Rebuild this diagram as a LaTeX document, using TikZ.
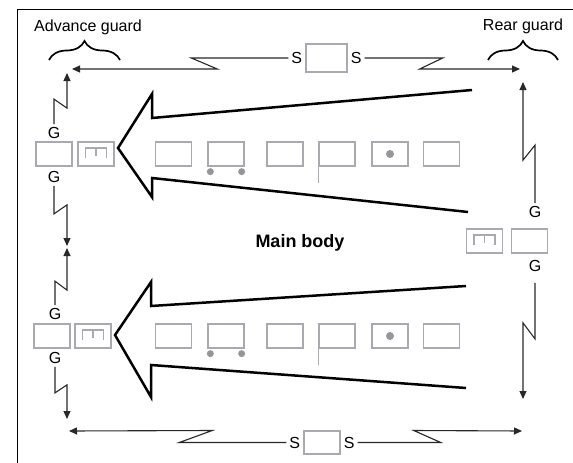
\documentclass[tikz,border=0pt]{standalone}
\usepackage{fontspec}
\setmainfont{Liberation Sans}
\usepackage{xcolor}
\usetikzlibrary{arrows.meta,positioning,decorations.pathreplacing,calc}
\definecolor{boxgray}{RGB}{168,170,176}
\definecolor{dotgray}{RGB}{148,150,156}
\definecolor{linkgray}{RGB}{40,40,40}
\tikzset{
  unit/.style={draw=boxgray, line width=1.3pt, minimum width=36pt, minimum height=24pt, inner sep=0pt},
  lbl/.style={inner sep=3pt, font=\fontsize{16}{19}\selectfont},
  link/.style={draw=linkgray, line width=1.1pt},
  tip/.style={-{Triangle[length=8pt,width=7pt]}},
  bigarrow/.style={line width=2.5pt, line join=miter, miter limit=20},
  guardbrace/.style={decorate, decoration={brace, amplitude=19pt}, line width=1.7pt},
  combmark/.pic={\draw[boxgray, line width=1.2pt] (-10.5,4) -- (-10.5,-6) -- (10.5,-6) -- (10.5,4) (0,-6) -- (0,2);}
}

\begin{document}
\begin{tikzpicture}[x=1pt,y=-1pt]
    \useasboundingbox (0,0) rectangle (573,463);
    % Frame
    \draw[line width=1pt] (17,463) -- (17,9) -- (573,9);

    % Guard labels and braces
    \node[lbl] (adv) at (88,27) {Advance guard};
    \node[lbl] (rear) at (523,26) {Rear guard};
    \draw[guardbrace] (49,60) -- (120,60);
    \draw[guardbrace] (488,60) -- (558,60);

    % Corner points of the screen
    \coordinate (advUp) at (67,73);
    \coordinate (advLeft) at (72,69);
    \coordinate (rearLeft) at (520,69);
    \coordinate (rearUp) at (523,82);
    \coordinate (midDown) at (67,246);
    \coordinate (midUp) at (67,248);
    \coordinate (advDown) at (67,419);
    \coordinate (advRight) at (69,431);
    \coordinate (rearDown) at (523,399);
    \coordinate (rearRight) at (522,431);

    % Main body arrows
    \draw[bigarrow] (472,90) -- (152,118) -- (152,94) -- (118,148) -- (152,197) -- (152,178) -- (468,212);
    \draw[bigarrow] (466,286) -- (151,306) -- (151,282) -- (115,335) -- (151,397) -- (151,365) -- (466,388);
    \node[font=\bfseries\fontsize{18}{21}\selectfont] (main) at (300,243) {Main body};

    % Vehicles of the main body, both columns
    \foreach \r/\y in {t/154, b/336} {
        \foreach \i/\x in {1/173.5, 2/226, 3/285, 4/337, 5/390, 6/441.5}
            \node[unit] (\r\i) at (\x,\y) {};
        \fill[dotgray] ($(\r2.south west)+(3,5)$) circle (3.5);
        \fill[dotgray] ($(\r2.south east)+(-3,5)$) circle (3.5);
        \draw[boxgray, line width=1.3pt] (\r4.south west) -- ++(0,16);
        \fill[dotgray] (\r5) circle (4);
    }

    % Advance guard elements
    \node[unit] (tlA) at (54,154) {};
    \node[unit] (tlB) at (96,154) {};
    \pic at (tlB) {combmark};
    \node[unit] (blA) at (52,336) {};
    \node[unit] (blB) at (93,336) {};
    \pic at (blB) {combmark};
    \node[lbl] (g1) at (54,133) {G};
    \node[lbl] (g2) at (54,177) {G};
    \node[lbl] (g3) at (55,314) {G};
    \node[lbl] (g4) at (55,358) {G};

    % Rear guard elements
    \node[unit] (rB) at (484.5,241) {};
    \pic at (rB) {combmark};
    \node[unit] (rA) at (529.5,241) {};
    \node[lbl] (g5) at (535,212) {G};
    \node[lbl] (g6) at (535,266) {G};

    % Screens
    \node[unit, minimum width=41pt, minimum height=28pt] (sTop) at (326.5,58) {};
    \node[lbl, left=0pt of sTop] (sTopL) {S};
    \node[lbl, right=0pt of sTop] (sTopR) {S};
    \node[unit, minimum height=23pt] (sBot) at (322,442.5) {};
    \node[lbl, left=0pt of sBot] (sBotL) {S};
    \node[lbl, right=0pt of sBot] (sBotR) {S};

    % Connectors
    \draw[link,tip] (g1.north) -- ++(0,-25) -- ++(13,9) -- (advUp);
    \draw[link,tip] (g2.south) -- ++(0,28) -- ++(13,-9) -- (midDown);
    \draw[link,tip] (g3.north) -- ++(0,-24) -- ++(12,9) -- (midUp);
    \draw[link,tip] (g4.south) -- ++(0,26) -- ++(12,-8) -- (advDown);
    \draw[link,tip] (sTopL.west) -- ++(-97,0) -- ++(26,11) -- (advLeft);
    \draw[link,tip] (sTopR.east) -- ++(78,0) -- ++(-23,11) -- (rearLeft);
    \draw[link,tip] (g5.north) -- ++(0,-58) -- ++(-12,15) -- (rearUp);
    \draw[link,tip] ([yshift=-8pt]g6.south) -- ++(0,56) -- ++(-12,-16) -- (rearDown);
    \draw[link,tip] (sBotL.west) -- ++(-107,0) -- ++(33,-12) -- (advRight);
    \draw[link,tip] (sBotR.east) -- ++(83,0) -- ++(-27,-12) -- (rearRight);
\end{tikzpicture}
\end{document}
